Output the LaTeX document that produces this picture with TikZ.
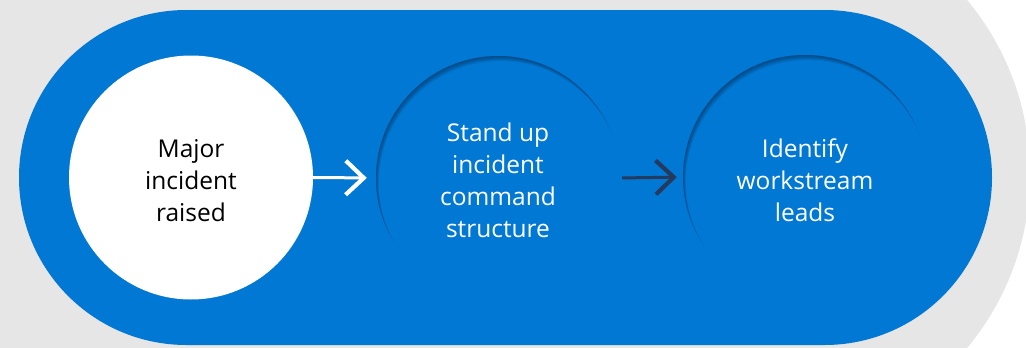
\documentclass[tikz,border=0pt]{standalone}
\usepackage{fontspec}
\setmainfont{Open Sans}
\usetikzlibrary{arrows.meta}
\definecolor{bggray}{HTML}{E6E6E6}
\definecolor{msblue}{HTML}{0078D4}
\definecolor{navy}{HTML}{243A5E}
\tikzset{
  stepcircle/.style={circle, minimum size=244pt, inner sep=0pt, align=center,
    font=\fontsize{24.5}{32}\selectfont},
  steptext/.style={align=center, inner sep=0pt, font=\fontsize{24.5}{32}\selectfont},
  conn/.style={line width=3pt, -{Straight Barb[length=18pt,width=34pt,line width'=4.2pt,line cap=butt]}},
}
\begin{document}
\begin{tikzpicture}[x=1pt,y=-1pt]
\useasboundingbox (0,0) rectangle (1026,348);
\fill[white] (0,0) rectangle (1026,348);
% gray background
\begin{scope}
  \clip (0,0) rectangle (1026,348);
  \fill[bggray] (-5,-5) rectangle (758,353);
  \fill[bggray] (758,174) circle (272pt);
\end{scope}
% blue pill
\fill[msblue, rounded corners=167.5pt] (19,10) rectangle (992,345);
% circles
\node[stepcircle, fill=white] (n1) at (191,177.5) {};
\node[stepcircle, fill=msblue] (n2) at (498,178) {};
\node[stepcircle, fill=msblue] (n3) at (805,177) {};
% inset shadows
\foreach \n in {n2,n3}{
  \begin{scope}
    \clip (\n.center) circle (122pt);
    \foreach \i in {1,...,8}{
      \fill[black, opacity=0.05, even odd rule]
        ([shift={(-200,-200)}]\n.center) rectangle ([shift={(200,200)}]\n.center)
        ([shift={(0.35*\i,0.65*\i)}]\n.center) circle (122pt);
    }
  \end{scope}
}
\node[steptext, text=black] (t1) at ([yshift=-3pt]n1.center) {Major\\incident\\raised};
\node[steptext, text=white] (t2) at ([yshift=-2pt]n2.center) {Stand up\\incident\\command\\structure};
\node[steptext, text=white] (t3) at ([yshift=-3pt]n3.center) {Identify\\workstream\\leads};
% connectors
\draw[conn, white, shorten >=9pt] (n1.east) -- (n2.west);
\draw[conn, navy, shorten <=2pt, shorten >=6pt] (n2.east) -- (n3.west);
\end{tikzpicture}
\end{document}
